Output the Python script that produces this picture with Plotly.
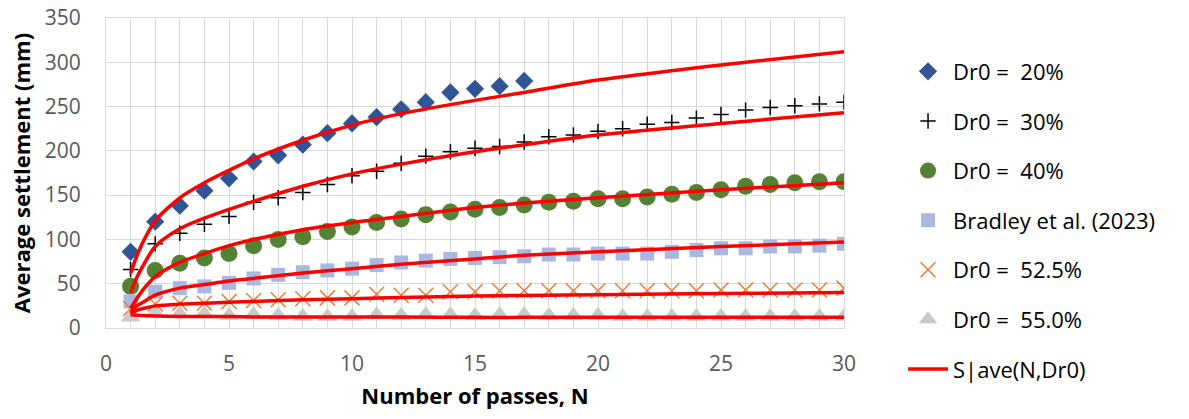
import plotly.graph_objects as go

# ---- data ----
N_all = list(range(1, 31))
N20 = list(range(1, 18))
S20 = [86, 120, 138, 155, 169, 188, 195, 207, 220, 231, 238, 247, 255, 266, 270, 273, 279]
S30 = [66, 95, 107, 117, 126, 142, 147, 153, 162, 172, 177, 186, 194, 199, 203,
       205, 210, 216, 218, 222, 225, 230, 232, 237, 241, 246, 249, 251, 253, 255]
S40 = [47, 65, 73, 79, 84, 93, 100, 103, 109, 114, 119, 123, 128, 131, 134,
       136, 139, 142, 143, 146, 146, 148, 151, 153, 156, 160, 162, 164, 165, 165]
SBr = [30, 41, 45, 47, 51, 56, 60, 63, 65, 67, 71, 74, 76, 78, 79,
       80, 81, 83, 83, 84, 84, 84, 86, 88, 90, 90, 92, 92, 93, 95]
S52 = [22, 27, 28, 28, 30, 31, 32, 33, 34, 34, 38, 37, 37, 41, 41,
       42, 42, 42, 42, 42, 42, 42, 42, 42, 43, 43, 43, 43, 43, 45]
S55 = [12, 17, 16, 16, 14, 15, 14, 13, 13, 13, 15, 14, 15, 15, 14,
       15, 15, 14, 14, 14, 13, 13, 13, 13, 13, 13, 13, 13, 13, 13]

# model curves S|ave(N, Dr0), read at selected N
N_model = [1, 1.25, 1.5, 2, 3, 4, 5, 6, 8, 10, 12, 15, 17, 20, 25, 30]
M20 = [62, 81, 97, 121, 147, 164, 178, 191, 212, 229, 242, 257, 266, 280, 297, 312]
M30 = [40, 57, 70, 92, 112, 124, 134, 143, 160, 174, 185, 199, 207, 218, 231, 243]
M40 = [22, 33, 43, 58, 74, 84, 93, 100, 111, 119, 126, 136, 141, 147, 156, 164]
MBr = [18, 25, 29, 37, 45, 49, 53, 56, 62, 67, 72, 78, 82, 86, 92, 97]
M52 = [16, 20, 22, 25, 27, 28, 29, 30, 32, 33, 34.5, 36, 36.8, 37.5, 39, 40]
M55 = [15, 14.5, 14, 13.5, 13, 13, 13, 12.5, 12.5, 12.5, 12.5, 12, 12, 12, 12, 12]

x_ticks = [0, 5, 10, 15, 20, 25, 30]
y_ticks = [0, 50, 100, 150, 200, 250, 300, 350]

FONT = "Open Sans"

fig = go.Figure()

marker_series = [
    ("Dr0 =  20%", N20, S20, dict(symbol="diamond", size=14, color="#2F5597")),
    ("Dr0 =  30%", N_all, S30, dict(symbol="cross-thin", size=11, color="#000000",
                                   line=dict(width=1.5, color="#000000"))),
    ("Dr0 =  40%", N_all, S40, dict(symbol="circle", size=17, color="#548235")),
    ("Bradley et al. (2023)", N_all, SBr, dict(symbol="square", size=14, color="#A9B8E0")),
    ("Dr0 =  52.5%", N_all, S52, dict(symbol="x-thin", size=15, color="#ED7D31",
                                     line=dict(width=1.5, color="#ED7D31"))),
    ("Dr0 =  55.0%", N_all, S55, dict(symbol="triangle-up", size=17, color="#C9C9C9")),
]
for i, (name, xs, ys, mk) in enumerate(marker_series):
    fig.add_trace(go.Scatter(x=xs, y=ys, mode="markers", name=name, marker=mk,
                             legendgroup=f"g{i}"))

for j, ys in enumerate([M20, M30, M40, MBr, M52, M55]):
    fig.add_trace(go.Scatter(x=N_model, y=ys, mode="lines", name="S|ave(N,Dr0)",
                             line=dict(color="#FF0000", width=3.5, shape="spline", smoothing=0.8),
                             showlegend=(j == 0), legendgroup="model"))

fig.update_layout(
    width=1189, height=419,
    margin=dict(l=106, r=345, t=18, b=91, autoexpand=False),
    paper_bgcolor="white", plot_bgcolor="white",
    font=dict(family=FONT, size=21, color="#595959"),
    legend=dict(x=1.08, y=0.895, xanchor="left", yanchor="top",
                font=dict(family=FONT, size=22, color="#000000"),
                traceorder="grouped", tracegroupgap=18, itemwidth=40,
                maxheight=400, bgcolor="rgba(0,0,0,0)"),
    xaxis=dict(range=[0, 30], tickvals=x_ticks, showgrid=True, gridcolor="#D9D9D9", gridwidth=1,
               minor=dict(dtick=1, showgrid=True, gridcolor="#D9D9D9", gridwidth=1),
               showline=True, linecolor="#D9D9D9", mirror=True, zeroline=False,
               ticks="outside", ticklen=17, tickcolor="rgba(0,0,0,0)", automargin=False,
               title=dict(text="<b>Number of passes, N</b>", standoff=12,
                          font=dict(family=FONT, size=22, color="#000000"))),
    yaxis=dict(range=[0, 350], tickvals=y_ticks, showgrid=True, gridcolor="#D9D9D9", gridwidth=1,
               showline=True, linecolor="#D9D9D9", mirror=True, zeroline=False,
               ticks="outside", ticklen=20, tickcolor="rgba(0,0,0,0)", automargin=False,
               title=dict(text="<b>Average settlement (mm)</b>", standoff=8,
                          font=dict(family=FONT, size=22, color="#000000"))),
)

fig.write_html("out.html")
